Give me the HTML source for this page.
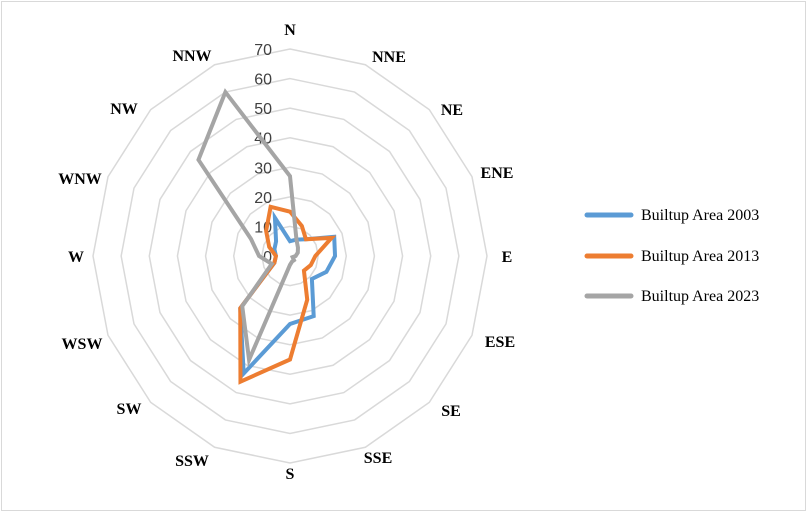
<!DOCTYPE html>
<html><head><meta charset="utf-8">
<style>
body{margin:0;background:#fff;}
svg{display:block;}
</style></head>
<body>
<svg id="chart" width="807" height="512" xmlns="http://www.w3.org/2000/svg">
<rect x="1.5" y="1.5" width="804" height="509" fill="#fff" stroke="#d9d9d9"/>
<g id="grid"></g>
<g id="ticks"></g>
<g id="cats"></g>
<g id="series"></g>
<g id="legend"></g>
</svg>
<script>
const categories = ["N","NNE","NE","ENE","E","ESE","SE","SSE","S","SSW","SW","WSW","W","WNW","NW","NNW"];
const area2003 = [5,6,8,17,16,14,11,22,23,43,25,6,5,6,7,14];
const area2013 = [15,11,8,16,9,8,7,16,35,46,25,6,5,8,12,18];
const area2023 = [27,6,4,3,2,1,2,2,3,38,24,7,11,15,46,60];
const tickValues = [0,10,20,30,40,50,60,70];
const seriesNames = ["Builtup Area 2003","Builtup Area 2013","Builtup Area 2023"];

const NS="http://www.w3.org/2000/svg";
const cx=290, cy=256, Rx=197, Ry=207, maxV=70;
const labelPos=[[0,-227],[99,-200],[162,-147],[207,-84],[217,0],[210,85],[161,154],[88,201],[0,217],[-98,204],[-161,152],[-208,87],[-214,0],[-210,-78],[-166,-148],[-98,-201]];
const colors=["#5b9bd5","#ed7d31","#a5a5a5"];
function pt(i,v){const a=i/categories.length*2*Math.PI;const f=v/maxV;return [cx+f*Rx*Math.sin(a), cy-f*Ry*Math.cos(a)];}
function mk(tag,attrs,parent){const e=document.createElementNS(NS,tag);for(const k in attrs)e.setAttribute(k,attrs[k]);parent.appendChild(e);return e;}

const grid=document.getElementById('grid');
tickValues.forEach(t=>{
  if(t===0)return;
  const p=categories.map((c,i)=>pt(i,t).join(',')).join(' ');
  const g=mk('polygon',{points:p,fill:'none',stroke:'#d9d9d9','stroke-width':1.5},grid);
  
  
});
const ticks=document.getElementById('ticks');
tickValues.forEach(t=>{
  const e=mk('text',{x:cx-18,y:cy-t/maxV*Ry+6,'text-anchor':'end','font-family':'Liberation Sans, sans-serif','font-size':16,fill:'#404040'},ticks);
  e.textContent=t;
  
  
});
const cats=document.getElementById('cats');
categories.forEach((c,i)=>{
  const x=cx+labelPos[i][0], y=cy+labelPos[i][1];
  const e=mk('text',{x:x,y:y+6,'text-anchor':'middle','font-family':'Liberation Serif, serif','font-size':16,'font-weight':'bold',fill:'#000'},cats);
  e.textContent=c;
  
  
});
const series=document.getElementById('series');
[area2003,area2013,area2023].forEach((d,s)=>{
  const p=d.map((v,i)=>pt(i,v).join(',')).join(' ');
  const e=mk('polygon',{points:p,fill:'none',stroke:colors[s],'stroke-width':4,'stroke-linejoin':'miter'},series);
  
  
});
const legend=document.getElementById('legend');
const ly=[215,256,296];
seriesNames.forEach((n,s)=>{
  const l=mk('line',{x1:587,x2:631,y1:ly[s],y2:ly[s],stroke:colors[s],'stroke-width':5,'stroke-linecap':'round'},legend);
  
  
  const t=mk('text',{x:641,y:ly[s]+5,'font-family':'Liberation Serif, serif','font-size':16,fill:'#000'},legend);
  t.textContent=n;
  
  
});
</script>
</body></html>
